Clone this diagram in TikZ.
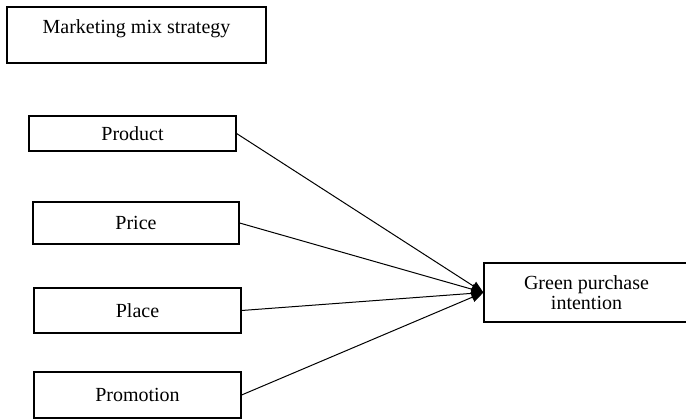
\documentclass[tikz,border=0pt]{standalone}
\usepackage{fontspec}
\setmainfont{Liberation Serif}
\usepackage{tikz}
\usetikzlibrary{arrows.meta}

\begin{document}
\begin{tikzpicture}[
  x=1pt, y=-1pt,
  font=\fontsize{20}{20}\selectfont,
  >={Triangle[length=12pt, width=10pt]},
  caixa/.style={draw, line width=1.2pt, align=center, inner sep=2pt},
  seta/.style={->, line width=1pt}
]
\useasboundingbox (0,0) rectangle (686,420);

% ---------- Título (topo) ----------
\node[caixa, minimum width=259, minimum height=56, text depth=17pt] (mix) at (136.5,35) {Marketing mix strategy};

% ---------- Coluna dos fatores ----------
\node[caixa, minimum width=207, minimum height=35] (produto)  at (132.5,133.5) {Product};
\node[caixa, minimum width=206, minimum height=42] (preco)    at (136,223)     {Price};
\node[caixa, minimum width=207, minimum height=45] (praca)    at (137.5,310.5) {Place};
\node[caixa, minimum width=207, minimum height=46] (promocao) at (137.5,395)   {Promotion};

% ---------- Variável dependente ----------
\node[caixa, minimum width=205, minimum height=59] (intencao) at (586.5,292.5) {Green purchase\\ intention};

% ---------- Setas fatores -> intenção ----------
\draw[seta] (produto.east)  -- (intencao.west);
\draw[seta] (preco.east)    -- (intencao.west);
\draw[seta] (praca.east)    -- (intencao.west);
\draw[seta] (promocao.east) -- (intencao.west);

\end{tikzpicture}
\end{document}
